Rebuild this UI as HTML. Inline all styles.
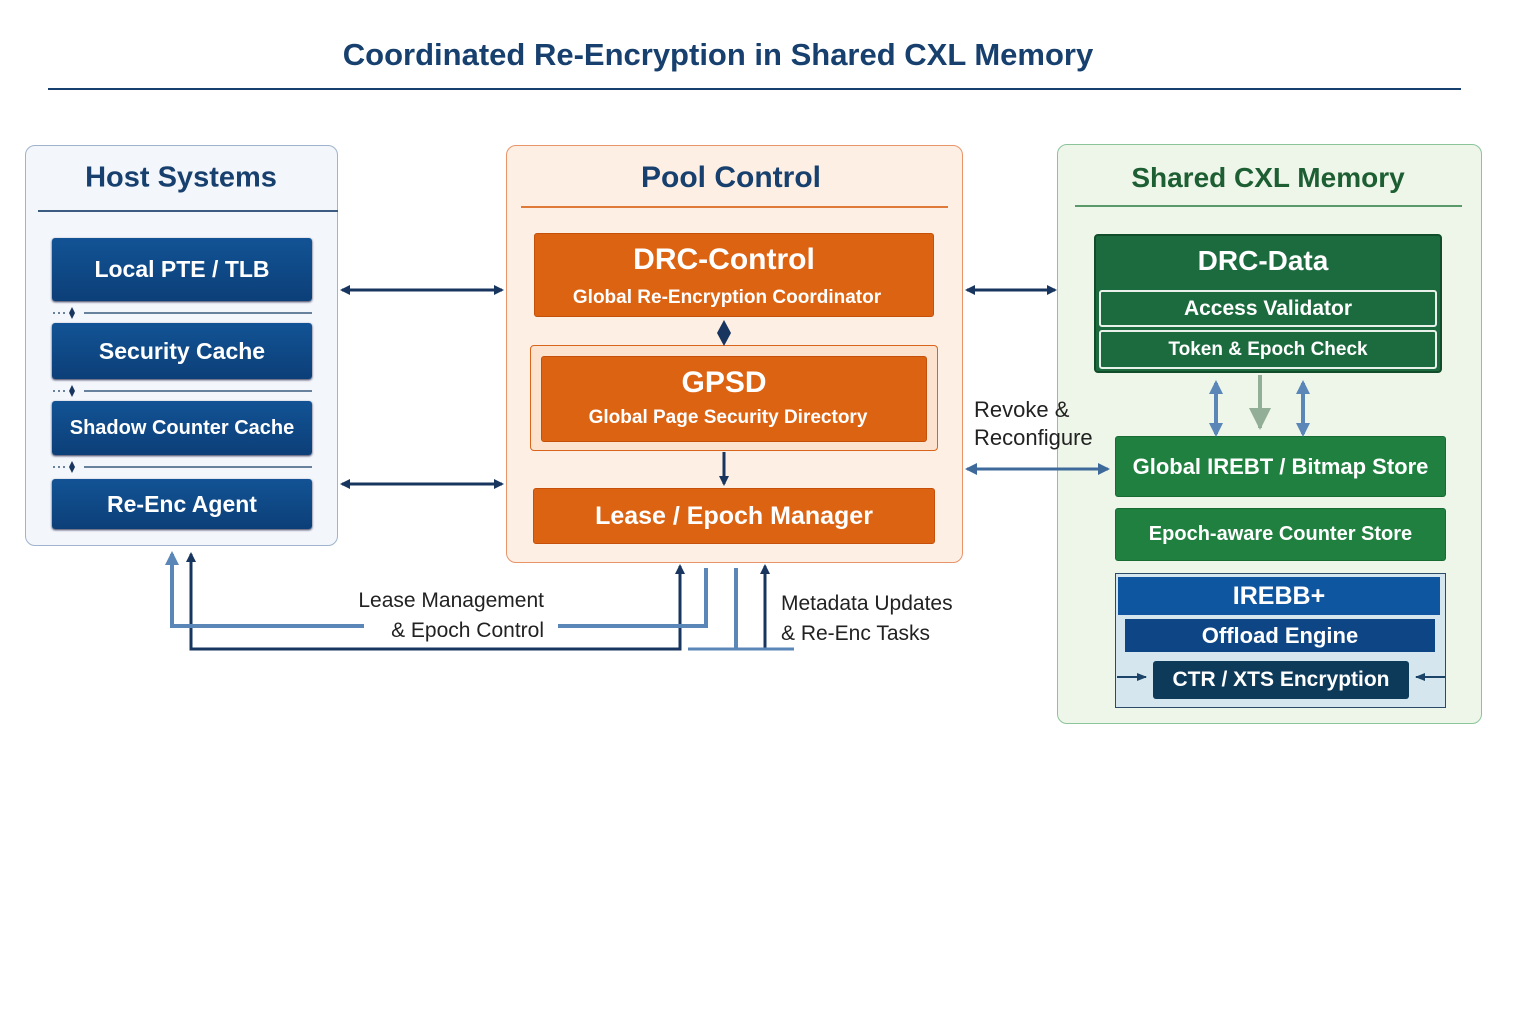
<!DOCTYPE html>
<html><head><meta charset="utf-8"><style>
body{margin:0;width:1536px;height:1024px;background:#fff;position:relative;overflow:hidden;font-family:"Liberation Sans",sans-serif}
.a{position:absolute;box-sizing:border-box}
.t{position:absolute;white-space:nowrap;transform:translate(-50%,-50%);font-weight:bold}
.bx{position:absolute;box-sizing:border-box;color:#fff;font-weight:bold;display:flex;align-items:center;justify-content:center;border-radius:3px}
.hb{background:linear-gradient(#125395,#0c3f78);font-size:23px;box-shadow:0 1px 2px #335}
.ob{background:#dc6312;border:1.5px solid #c4500a}
.gb{background:#1f8040;border:1px solid #176b33;font-size:22px}
</style></head><body>
<div class="t" style="left:718px;top:55px;font-size:31px;color:#17406e">Coordinated Re-Encryption in Shared CXL Memory</div>
<div class="a" style="left:48px;top:88px;width:1413px;height:2px;background:#17406e"></div>

<!-- Host -->
<div class="a" style="left:25px;top:145px;width:313px;height:401px;background:#f3f6fb;border:1.5px solid #9fb3cc;border-radius:10px"></div>
<div class="t" style="left:181px;top:178px;font-size:29px;color:#17406e">Host Systems</div>
<div class="a" style="left:38px;top:210px;width:300px;height:1.5px;background:#3b5b80"></div>
<div class="bx hb" style="left:52px;top:238px;width:260px;height:63px">Local PTE / TLB</div>
<div class="bx hb" style="left:52px;top:323px;width:260px;height:56px">Security Cache</div>
<div class="bx hb" style="left:52px;top:401px;width:260px;height:54px;font-size:20px">Shadow Counter Cache</div>
<div class="bx hb" style="left:52px;top:479px;width:260px;height:50px">Re-Enc Agent</div>

<!-- Pool -->
<div class="a" style="left:506px;top:145px;width:457px;height:418px;background:#fdefe3;border:1.5px solid #e8956a;border-radius:10px"></div>
<div class="t" style="left:731px;top:178px;font-size:30px;color:#17406e">Pool Control</div>
<div class="a" style="left:521px;top:206px;width:427px;height:1.5px;background:#e07a3a"></div>
<div class="bx ob" style="left:534px;top:233px;width:400px;height:84px"></div>
<div class="t" style="left:724px;top:260px;font-size:30px;color:#fff">DRC-Control</div>
<div class="t" style="left:727px;top:298px;font-size:19px;color:#fff">Global Re-Encryption Coordinator</div>
<div class="a" style="left:530px;top:345px;width:408px;height:106px;border:1.5px solid #d9651c;border-radius:4px;background:#fbe3cf"></div>
<div class="bx ob" style="left:541px;top:356px;width:386px;height:86px"></div>
<div class="t" style="left:724px;top:383px;font-size:30px;color:#fff">GPSD</div>
<div class="t" style="left:728px;top:418px;font-size:19px;color:#fff">Global Page Security Directory</div>
<div class="bx ob" style="left:533px;top:488px;width:402px;height:56px;font-size:25px">Lease / Epoch Manager</div>

<!-- CXL -->
<div class="a" style="left:1057px;top:144px;width:425px;height:580px;background:#eef6ea;border:1.5px solid #8cc49a;border-radius:10px"></div>
<div class="t" style="left:1268px;top:178px;font-size:28px;color:#1d5e33">Shared CXL Memory</div>
<div class="a" style="left:1075px;top:205px;width:387px;height:1.5px;background:#5a9a6a"></div>
<div class="a" style="left:1094px;top:234px;width:348px;height:139px;background:#1c6b3f;border:2px solid #124d2b;border-radius:4px"></div>
<div class="t" style="left:1263px;top:261px;font-size:28px;color:#fff">DRC-Data</div>
<div class="bx" style="left:1099px;top:290px;width:338px;height:37px;background:#1c6b3f;border:2px solid #e8f2ea;font-size:21px">Access Validator</div>
<div class="bx" style="left:1099px;top:330px;width:338px;height:39px;background:#1c6b3f;border:2px solid #e8f2ea;font-size:19px">Token &amp; Epoch Check</div>
<div class="bx gb" style="left:1115px;top:436px;width:331px;height:61px">Global IREBT / Bitmap Store</div>
<div class="bx gb" style="left:1115px;top:508px;width:331px;height:53px;font-size:20px">Epoch-aware Counter Store</div>
<div class="a" style="left:1115px;top:573px;width:331px;height:135px;background:#d5e6ee;border:1.5px solid #2b4a6a"></div>
<div class="bx" style="left:1118px;top:577px;width:322px;height:38px;background:#0f56a0;font-size:25px;border-radius:0">IREBB+</div>
<div class="bx" style="left:1125px;top:619px;width:310px;height:33px;background:#0d4585;font-size:22px;border-radius:0">Offload Engine</div>
<div class="bx" style="left:1153px;top:661px;width:256px;height:38px;background:#0c3a58;font-size:21px">CTR / XTS Encryption</div>

<!-- labels -->
<div class="a" style="left:974px;top:396px;font-size:22px;color:#222;line-height:28px">Revoke &amp;<br>Reconfigure</div>
<div class="a" style="left:346px;top:586px;font-size:21px;color:#222;line-height:30px;text-align:right;width:198px">Lease Management<br>&amp; Epoch Control</div>
<div class="a" style="left:781px;top:589px;font-size:21px;color:#222;line-height:30px">Metadata Updates<br>&amp; Re-Enc Tasks</div>

<svg class="a" style="left:0;top:0" width="1536" height="1024">
<defs>
<marker id="n" markerWidth="10" markerHeight="10" refX="8" refY="5" orient="auto-start-reverse" markerUnits="userSpaceOnUse"><path d="M0,0L10,5L0,10z" fill="#17355e"/></marker>
<marker id="l" markerWidth="14" markerHeight="14" refX="11" refY="7" orient="auto-start-reverse" markerUnits="userSpaceOnUse"><path d="M0,0L14,7L0,14z" fill="#5b86b8"/></marker>
<marker id="b" markerWidth="12" markerHeight="12" refX="10" refY="6" orient="auto-start-reverse" markerUnits="userSpaceOnUse"><path d="M0,0L12,6L0,12z" fill="#3d6a9a"/></marker>
<marker id="g" markerWidth="24" markerHeight="22" refX="20" refY="11" orient="auto" markerUnits="userSpaceOnUse"><path d="M0,0L22,11L0,22z" fill="#93ae96"/></marker>
<marker id="s" markerWidth="10" markerHeight="10" refX="9" refY="5" orient="auto" markerUnits="userSpaceOnUse"><path d="M0,1L10,5L0,9z" fill="#1b4468"/></marker>
</defs>
<g stroke="#17355e" stroke-width="3" fill="none">
<line x1="342" y1="290" x2="502" y2="290" marker-start="url(#n)" marker-end="url(#n)"/>
<line x1="342" y1="484" x2="502" y2="484" marker-start="url(#n)" marker-end="url(#n)"/>
<line x1="967" y1="290" x2="1055" y2="290" marker-start="url(#n)" marker-end="url(#n)"/>
<line x1="724" y1="452" x2="724" y2="484" marker-end="url(#n)"/>
<polyline points="191,554 191,649 680,649 680,566" marker-start="url(#n)" marker-end="url(#n)"/>
<line x1="765" y1="649" x2="765" y2="566" marker-end="url(#n)"/>
</g>
<path d="M724,320L731,333L724,346L717,333z" fill="#17355e"/>
<line x1="967" y1="469" x2="1108" y2="469" stroke="#3d6a9a" stroke-width="3" marker-start="url(#b)" marker-end="url(#b)"/>
<g stroke="#5b86b8" stroke-width="4" fill="none">
<polyline points="364,626 172,626 172,554" marker-end="url(#l)"/>
<polyline points="558,626 706,626 706,568"/>
<line x1="736" y1="568" x2="736" y2="649"/>
<line x1="688" y1="649" x2="794" y2="649" stroke-width="3"/>
<line x1="1216" y1="383" x2="1216" y2="434" marker-start="url(#l)" marker-end="url(#l)"/>
<line x1="1303" y1="383" x2="1303" y2="434" marker-start="url(#l)" marker-end="url(#l)"/>
</g>
<line x1="1260" y1="375" x2="1260" y2="428" stroke="#93ae96" stroke-width="4" marker-end="url(#g)"/>
<g stroke="#1b4468" stroke-width="2" fill="none">
<line x1="1117" y1="677" x2="1146" y2="677" marker-end="url(#s)"/>
<line x1="1445" y1="677" x2="1416" y2="677" marker-end="url(#s)"/>
</g>
<g stroke="#3b5b80" stroke-width="1.5">
<line x1="84" y1="313" x2="312" y2="313"/><line x1="84" y1="391" x2="312" y2="391"/><line x1="84" y1="467" x2="312" y2="467"/>
<line x1="53" y1="313" x2="68" y2="313" stroke-dasharray="2 3"/><line x1="53" y1="391" x2="68" y2="391" stroke-dasharray="2 3"/><line x1="53" y1="467" x2="68" y2="467" stroke-dasharray="2 3"/>
</g>
<g fill="#17355e">
<path d="M72,307L75,313L72,319L69,313z"/><path d="M72,385L75,391L72,397L69,391z"/><path d="M72,461L75,467L72,473L69,467z"/>
</g>
</svg>
</body></html>
